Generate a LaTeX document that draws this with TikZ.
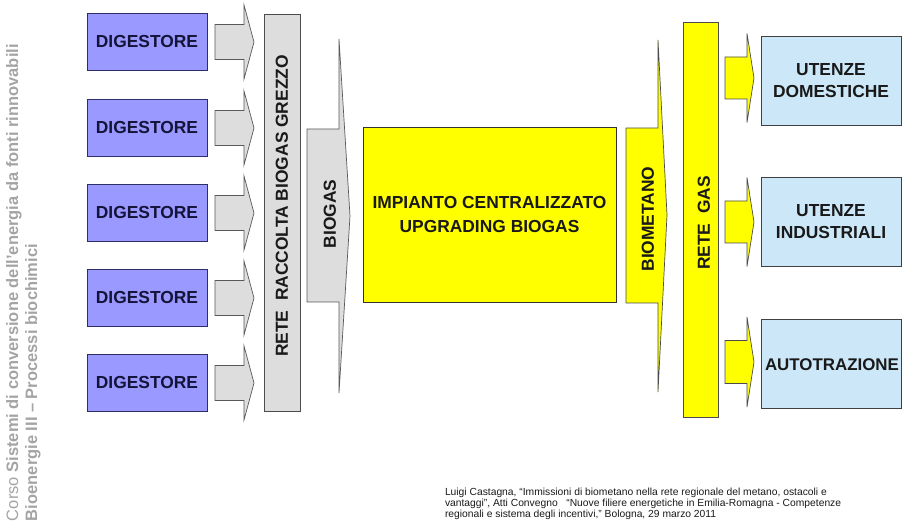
\documentclass[tikz,border=0pt]{standalone}
\usepackage{fontspec}
\setmainfont{Liberation Sans}
\definecolor{digfill}{HTML}{9999FF}
\definecolor{digdraw}{HTML}{2E2E66}
\definecolor{digtext}{HTML}{14143A}
\definecolor{grayfill}{HTML}{DDDDDD}
\definecolor{yel}{HTML}{FFFF00}
\definecolor{bluefill}{HTML}{CCE8F8}
\definecolor{sidegray}{HTML}{A4A4A4}
\newcommand{\blockarr}[7]{%
  \draw[#7] (#1,#4-#5) -- (#2,#4-#5) -- (#2,#4-#6) -- (#3,#4) -- (#2,#4+#6) -- (#2,#4+#5) -- (#1,#4+#5) -- cycle;}
\begin{document}
\begin{tikzpicture}[x=1pt,y=-1pt,
  every node/.style={inner sep=0pt,outer sep=0pt},
  lbl/.style={font=\fontsize{17.4}{20}\selectfont\bfseries},
  dig/.style={draw=digdraw,line width=0.9pt,fill=digfill,minimum width=120pt,minimum height=57pt,lbl,text=digtext},
  user/.style={draw=black!75,line width=0.9pt,fill=bluefill,minimum width=140pt,minimum height=89pt,lbl,text=black!90,align=center},
  grayarr/.style={draw=black!65,line width=0.7pt,fill=grayfill},
  yelarr/.style={draw=black!70,line width=0.7pt,fill=yel},
  vlab/.style={lbl,rotate=90,text=black!90}
]
\useasboundingbox (0,0) rectangle (902,529);
% digestori
\foreach \i/\yc in {1/42,2/128,3/213,4/298,5/383}{
  \node[dig] (d\i) at (147,\yc) {DIGESTORE};
  \blockarr{215}{244}{254}{\yc}{17.5}{37}{grayarr}
}
% rete raccolta
\node[draw=black!70,line width=0.8pt,fill=grayfill,minimum width=36pt,minimum height=397pt] (rr) at (282,212.5) {};
\node[vlab] (rrl) at (282,206) {RETE\ \ RACCOLTA BIOGAS GREZZO};
% biogas arrow
\draw[grayarr] (307,129) -- (339,129) -- (339,39) -- (350,216) -- (339,393) -- (339,302) -- (307,302) -- cycle;
\node[vlab] (bg) at (330,214) {BIOGAS};
% impianto
\node[draw=black!80,line width=0.9pt,fill=yel,minimum width=253pt,minimum height=175pt,lbl,align=center,text=black!90] (imp) at (489.5,214.5) {IMPIANTO CENTRALIZZATO\\[4pt]UPGRADING BIOGAS};
% biometano arrow
\draw[yelarr] (626,128) -- (658,128) -- (658,40) -- (667,215) -- (658,392) -- (658,303) -- (626,303) -- cycle;
\node[vlab] (bm) at (648,219) {BIOMETANO};
% rete gas
\node[draw=black!70,line width=0.8pt,fill=yel,minimum width=35pt,minimum height=395pt] (rg) at (700.5,219.5) {};
\node[vlab] (rgl) at (704,223) {RETE\ \ GAS};
% output arrows
\blockarr{725}{747}{754}{78}{21}{44.5}{yelarr}
\blockarr{725}{747}{754}{222}{21}{44.5}{yelarr}
\blockarr{725}{747}{754}{362}{21.5}{45}{yelarr}
% users
\node[user] (u1) at (831,80.5) {UTENZE\\[2pt]DOMESTICHE};
\node[user] (u2) at (831,222) {UTENZE\\[2pt]INDUSTRIALI};
\node[user] (u3) at (831,363.5) {};
\node[font=\fontsize{16.9}{20}\selectfont\bfseries,text=black!90,anchor=west] (u3l) at (765,365) {AUTOTRAZIONE};
% side text
\node[rotate=90,anchor=west,text=sidegray,font=\fontsize{16.5}{18}\selectfont] (s1) at (14,521) {Corso \textbf{Sistemi di conversione dell’energia da fonti rinnovabili}};
\node[rotate=90,anchor=west,text=sidegray,font=\fontsize{16.5}{18}\selectfont\bfseries] (s2) at (33,521) {Bioenergie III – Processi biochimici};
% citation
\node[anchor=north west,align=left,font=\fontsize{10.3}{11.2}\selectfont,text=black!90] (cit) at (445,488) {Luigi Castagna, “Immissioni di biometano nella rete regionale del metano, ostacoli e\\vantaggi", Atti Convegno \ \ “Nuove filiere energetiche in Emilia-Romagna - Competenze\\regionali e sistema degli incentivi,” Bologna, 29 marzo 2011};
\end{tikzpicture}
\end{document}
